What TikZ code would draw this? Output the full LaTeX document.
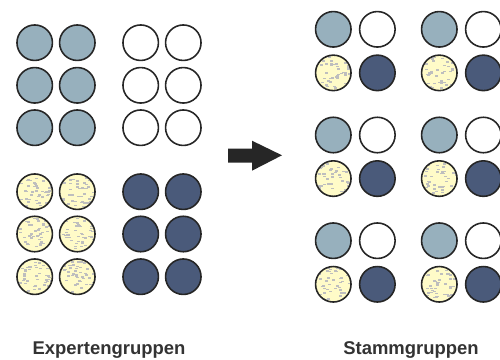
\documentclass[tikz,border=0pt]{standalone}
\usepackage{fontspec}
\setmainfont{Liberation Sans}
\usepackage{tikz}
\usetikzlibrary{positioning}
\definecolor{graublau}{RGB}{151, 176, 189}
\definecolor{marine}{RGB}{74, 90, 122}
\definecolor{hellgelb}{RGB}{255, 251, 200}
\definecolor{sprenkel}{RGB}{190, 190, 190}
\definecolor{schrift}{RGB}{51, 51, 51}

\begin{document}
\pgfmathsetseed{4711}
\begin{tikzpicture}[
    x=0.02cm, y=-0.02cm,
    kreis/.style={circle, draw=black!85, line width=0.9pt, minimum size=0.71cm, inner sep=0pt},
    blaukreis/.style={kreis, fill=graublau},
    weisskreis/.style={kreis, fill=white},
    marinekreis/.style={kreis, fill=marine},
    gelbkreis/.style={kreis, fill=hellgelb,
                path picture={
                  \foreach \k in {1,...,45}
                    \fill[sprenkel] ([shift={({rand*0.32cm},{rand*0.32cm})}]path picture bounding box.center)
                      rectangle +(0.06cm,0.03cm);}},
    titel/.style={font=\fontsize{10.5}{12}\selectfont\bfseries, text=schrift}
]
    \useasboundingbox (0,0) rectangle (500,359);

    % Expertengruppen
    \foreach \y [count=\i] in {42.7, 85.3, 127.7} {
        \node[blaukreis] (b-\i-1) at (34.7,\y) {};
        \node[blaukreis] (b-\i-2) at (77.3,\y) {};
        \node[weisskreis] (w-\i-1) at (140.7,\y) {};
        \node[weisskreis] (w-\i-2) at (183.3,\y) {};
    }
    \foreach \y [count=\i] in {191.7, 234, 276.7} {
        \node[gelbkreis] (g-\i-1) at (34.7,\y) {};
        \node[gelbkreis] (g-\i-2) at (77.3,\y) {};
        \node[marinekreis] (m-\i-1) at (140.7,\y) {};
        \node[marinekreis] (m-\i-2) at (183.3,\y) {};
    }

    % Pfeil
    \fill[black!85] (228,148.7) -- (252,148.7) -- (252,140.7) -- (282,155.3)
        -- (252,170.7) -- (252,162.7) -- (228,162.7) -- cycle;

    % Stammgruppen
    \foreach \y [count=\i] in {29.3, 135, 240.7} {
        \foreach \x [count=\j] in {333.3, 439.3} {
            \node[blaukreis] (s-\i-\j-b) at (\x,\y) {};
            \node[weisskreis, right=0.14cm of s-\i-\j-b] (s-\i-\j-w) {};
            \node[gelbkreis, below=0.13cm of s-\i-\j-b] (s-\i-\j-g) {};
            \node[marinekreis, right=0.14cm of s-\i-\j-g] (s-\i-\j-m) {};
        }
    }

    \node[titel] (experten) at (109,350) {Expertengruppen};
    \node[titel] (stamm) at (411,350) {Stammgruppen};
\end{tikzpicture}
\end{document}
